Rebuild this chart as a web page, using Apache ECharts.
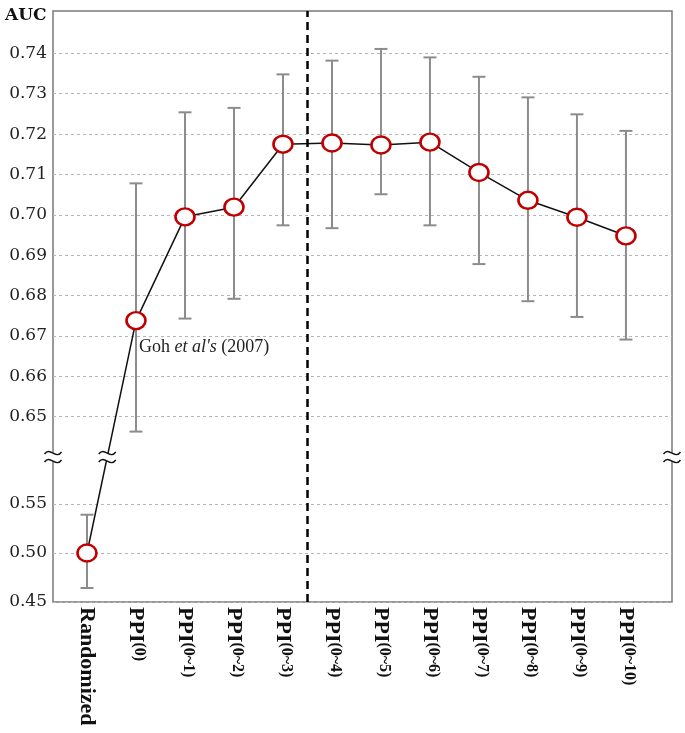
<!DOCTYPE html>
<html>
<head>
<meta charset="utf-8">
<script src="https://cdn.jsdelivr.net/npm/echarts@6/dist/echarts.min.js"></script>
<style>
  html, body { margin: 0; padding: 0; background: #fff; }
  #chart { width: 685px; height: 733px; }
</style>
</head>
<body>
<div id="chart"></div>
<script>
const categories = ['Randomized', 'PPI(0)', 'PPI(0~1)', 'PPI(0~2)', 'PPI(0~3)', 'PPI(0~4)',
  'PPI(0~5)', 'PPI(0~6)', 'PPI(0~7)', 'PPI(0~8)', 'PPI(0~9)', 'PPI(0~10)'];
const auc    = [0.500, 0.6738, 0.6995, 0.7019, 0.7175, 0.7178, 0.7173, 0.7180, 0.7105, 0.7036, 0.6994, 0.6948];
const ciLow  = [0.4643, 0.6463, 0.6743, 0.6792, 0.6974, 0.6967, 0.7051, 0.6974, 0.6878, 0.6786, 0.6747, 0.6691];
const ciHigh = [0.5391, 0.7078, 0.7254, 0.7265, 0.7348, 0.7382, 0.7411, 0.7390, 0.7342, 0.7291, 0.7249, 0.7208];
const yTicks = [0.45, 0.50, 0.55, 0.65, 0.66, 0.67, 0.68, 0.69, 0.70, 0.71, 0.72, 0.73, 0.74];
const annotation = { index: 1, text: "Goh et al's (2007)" };
const dividerAt = 4.5;   // between PPI(0~3) and PPI(0~4)

// broken axis: upper segment shown from 0.640 upward, lower segment up to 0.598 compressed
const upperMin = 0.640, lowerMax = 0.598, lowerScale = 0.2427;
function f(v) { return v >= upperMin ? v : upperMin - (lowerMax - v) * lowerScale; }

const xMin = -0.694, xMax = 11.94;
const yMin = f(0.45), yMax = 0.7505;

const lineData = categories.map((c, i) => {
  const d = { value: [i, f(auc[i])] };
  if (i === annotation.index) {
    d.label = {
      show: true, position: 'bottom', distance: 4, align: 'left', offset: [3, 4],
      formatter: "{n|Goh }{i|et al's}{n| (2007)}",
      rich: {
        n: { fontFamily: 'Liberation Serif', fontSize: 18, color: '#222' },
        i: { fontFamily: 'Liberation Serif', fontSize: 18, fontStyle: 'italic', color: '#222' }
      }
    };
  }
  return d;
});
const errData = categories.map((c, i) => [i, f(ciLow[i]), f(ciHigh[i])]);

// positions where the axis break is marked: left axis, right axis, and on the connecting line
const crossX = 0 + (upperMin - f(auc[0])) / (f(auc[1]) - f(auc[0]));
const breakData = [[xMin, upperMin], [xMax, upperMin], [crossX, upperMin]];

function xLabel(v) {
  const name = categories[Math.round(v)];
  if (!name) return '';
  const m = name.match(/^(PPI)(\(.*\))$/);
  if (m) return '{b|' + m[1] + '}{s|' + m[2] + '}';
  return '{b|' + name + '}';
}

const chart = echarts.init(document.getElementById('chart'), null, { renderer: 'canvas' });
chart.setOption({
  animation: false,
  title: {
    text: 'AUC', left: 0, top: 2,
    textStyle: { fontFamily: 'DejaVu Serif', fontWeight: 'bold', fontSize: 17, color: '#111' }
  },
  grid: {
    left: 53, right: 13, top: 11, bottom: 131,
    show: true, borderColor: '#7a7a7a', borderWidth: 1.5, backgroundColor: '#fff'
  },
  xAxis: {
    type: 'value', min: xMin, max: xMax,
    axisLine: { show: false }, axisTick: { show: false, customValues: categories.map((c, i) => i) },
    splitLine: { show: false },
    axisLabel: {
      customValues: categories.map((c, i) => i),
      rotate: -90, margin: 5,
      formatter: xLabel,
      rich: {
        b: { fontFamily: 'Liberation Serif', fontWeight: 'bold', fontSize: 22, color: '#111', lineHeight: 22 },
        s: { fontFamily: 'Liberation Serif', fontWeight: 'bold', fontSize: 16, color: '#111', lineHeight: 16, verticalAlign: 'top' }
      }
    }
  },
  yAxis: {
    type: 'value', min: yMin, max: yMax,
    axisLine: { show: false },
    axisTick: { show: false, customValues: yTicks.map(f) },
    splitLine: { show: true, lineStyle: { color: '#b5b5b5', type: [3, 3], width: 1 } },
    axisLabel: {
      customValues: yTicks.map(f), margin: 6,
      fontFamily: 'DejaVu Serif', fontSize: 17, color: '#222',
      formatter: function (v) {
        for (const t of yTicks) if (Math.abs(f(t) - v) < 1e-6) return t.toFixed(2);
        return '';
      }
    }
  },
  series: [
    {
      type: 'custom', z: 1, clip: false,
      data: errData,
      renderItem: function (params, api) {
        const x = api.value(0);
        const lo = api.coord([x, api.value(1)]);
        const hi = api.coord([x, api.value(2)]);
        const w = 6.5;
        const st = { stroke: '#8c8c8c', lineWidth: 2 };
        return {
          type: 'group', children: [
            { type: 'line', shape: { x1: lo[0], y1: lo[1], x2: hi[0], y2: hi[1] }, style: st },
            { type: 'line', shape: { x1: lo[0] - w, y1: lo[1], x2: lo[0] + w, y2: lo[1] }, style: st },
            { type: 'line', shape: { x1: hi[0] - w, y1: hi[1], x2: hi[0] + w, y2: hi[1] }, style: st }
          ]
        };
      }
    },
    {
      type: 'line', z: 3,
      data: lineData,
      symbol: 'circle', symbolSize: [19, 17],
      itemStyle: { color: '#ffffff', borderColor: '#c00000', borderWidth: 2.5 },
      lineStyle: { color: '#111', width: 1.5 },
      markLine: {
        silent: true, symbol: 'none', label: { show: false },
        lineStyle: { color: '#000', width: 2.5, type: [8, 5] },
        data: [{ xAxis: dividerAt }]
      }
    },
    {
      type: 'custom', z: 5, clip: false,
      data: breakData,
      renderItem: function (params, api) {
        const p = api.coord([api.value(0), api.value(1)]);
        const hw = 8.5, dy = 4;
        const st = { stroke: '#111', lineWidth: 1.4, fill: null };
        function wave(yc) {
          return { type: 'bezierCurve', shape: {
            x1: p[0] - hw, y1: yc + 1, cpx1: p[0] - 3, cpy1: yc - 7,
            cpx2: p[0] + 3, cpy2: yc + 7, x2: p[0] + hw, y2: yc - 1 }, style: st };
        }
        return {
          type: 'group', children: [
            { type: 'rect', shape: { x: p[0] - 3, y: p[1] - dy, width: 6, height: dy * 2 }, style: { fill: '#fff' } },
            wave(p[1] - dy), wave(p[1] + dy)
          ]
        };
      }
    }
  ]
});
</script>
</body>
</html>
